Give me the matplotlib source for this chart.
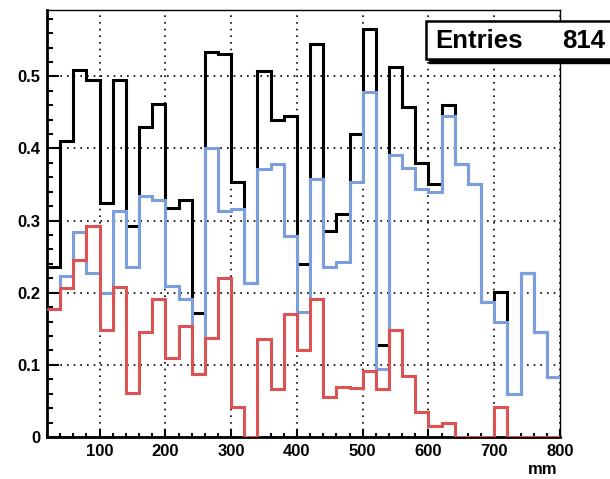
import numpy as np
import matplotlib
matplotlib.use("Agg")
import matplotlib.pyplot as plt
from matplotlib.ticker import MultipleLocator, FuncFormatter
from matplotlib.patches import Rectangle

# bin edges: 20 mm wide, 20..800
bin_edges = np.arange(20, 801, 20)

# all entries (black)
total = [0.235, 0.41, 0.509, 0.495, 0.325, 0.495, 0.293, 0.43, 0.462, 0.318,
         0.328, 0.172, 0.534, 0.531, 0.354, 0.214, 0.508, 0.439, 0.445, 0.24,
         0.545, 0.285, 0.309, 0.42, 0.566, 0.127, 0.513, 0.457, 0.38, 0.351,
         0.46, 0.379, 0.351, 0.187, 0.201, 0.06, 0.228, 0.146, 0.083]
# blue subset
blue_vals = [0.178, 0.223, 0.284, 0.228, 0.2, 0.313, 0.235, 0.334, 0.328, 0.209,
             0.191, 0.087, 0.4, 0.313, 0.316, 0.214, 0.372, 0.379, 0.279, 0.173,
             0.358, 0.235, 0.242, 0.354, 0.478, 0.094, 0.391, 0.373, 0.344, 0.339,
             0.445, 0.379, 0.351, 0.187, 0.16, 0.06, 0.228, 0.146, 0.083]
# red subset
red_vals = [0.178, 0.207, 0.245, 0.293, 0.149, 0.208, 0.061, 0.145, 0.192, 0.11,
            0.154, 0.087, 0.137, 0.22, 0.042, 0.0, 0.136, 0.066, 0.17, 0.12,
            0.191, 0.055, 0.069, 0.068, 0.092, 0.067, 0.149, 0.085, 0.035, 0.015,
            0.019, 0.0, 0.0, 0.0, 0.041, 0.0, 0.0, 0.0, 0.0]

n_entries = 814

W, H = 610, 479
fig = plt.figure(figsize=(W / 100, H / 100), dpi=100)
ax = fig.add_axes([47 / W, 1 - 437 / H, (560 - 47) / W, (437 - 10) / H])

lw = 2.2
ax.stairs(total, bin_edges, baseline=None, color="black", lw=lw, zorder=3)
ax.stairs(blue_vals, bin_edges, baseline=None, color="#7b9fdd", lw=lw, zorder=4)
ax.stairs(red_vals, bin_edges, baseline=None, color="#dd5252", lw=lw, zorder=5)

ax.set_xlim(20, 800)
ax.set_ylim(0, 0.592)

ax.xaxis.set_major_locator(MultipleLocator(100))
ax.xaxis.set_minor_locator(MultipleLocator(20))
ax.yaxis.set_major_locator(MultipleLocator(0.1))
ax.yaxis.set_minor_locator(MultipleLocator(0.02))
ax.yaxis.set_major_formatter(FuncFormatter(lambda v, p: "0" if abs(v) < 1e-9 else f"{v:.1f}"))

ax.grid(True, which="major", color="black", lw=1.2, linestyle=(0, (1, 3)), zorder=1)
ax.set_axisbelow(True)

font = dict(family="Liberation Sans", weight="bold", size=12)
for lab in ax.get_xticklabels() + ax.get_yticklabels():
    lab.set_fontproperties(matplotlib.font_manager.FontProperties(**font))
ax.tick_params(axis="x", which="major", direction="in", length=6, width=1.5, pad=5)
ax.tick_params(axis="x", which="minor", direction="in", length=3.2, width=1.5)
ax.tick_params(axis="y", which="major", direction="in", length=8.6, width=1.5, pad=5)
ax.tick_params(axis="y", which="minor", direction="in", length=4.3, width=1.5)

for side in ["left", "bottom"]:
    ax.spines[side].set_linewidth(2.0)
for side in ["top", "right"]:
    ax.spines[side].set_linewidth(1.0)

fig.text(557 / W, 1 - 469 / H, "mm", ha="right", va="center", **font)

# stats box with shadow
def px_rect(x0, y0, x1, y1, **kw):
    return Rectangle((x0 / W, 1 - y1 / H), (x1 - x0) / W, (y1 - y0) / H,
                     transform=fig.transFigure, **kw)

fig.patches.append(px_rect(429, 24, 640, 63, facecolor="black", edgecolor="black", zorder=10))
fig.patches.append(px_rect(426, 21, 640, 59, facecolor="white", edgecolor="black", lw=1.8, zorder=11))
fig.text(435 / W, 1 - 41 / H, "Entries", ha="left", va="center", zorder=12,
         family="Liberation Sans", weight="bold", size=18.5)
fig.text(605 / W, 1 - 41 / H, f"{n_entries}", ha="right", va="center", zorder=12,
         family="Liberation Sans", weight="bold", size=18.5)

fig.savefig("out.png", dpi=100)
